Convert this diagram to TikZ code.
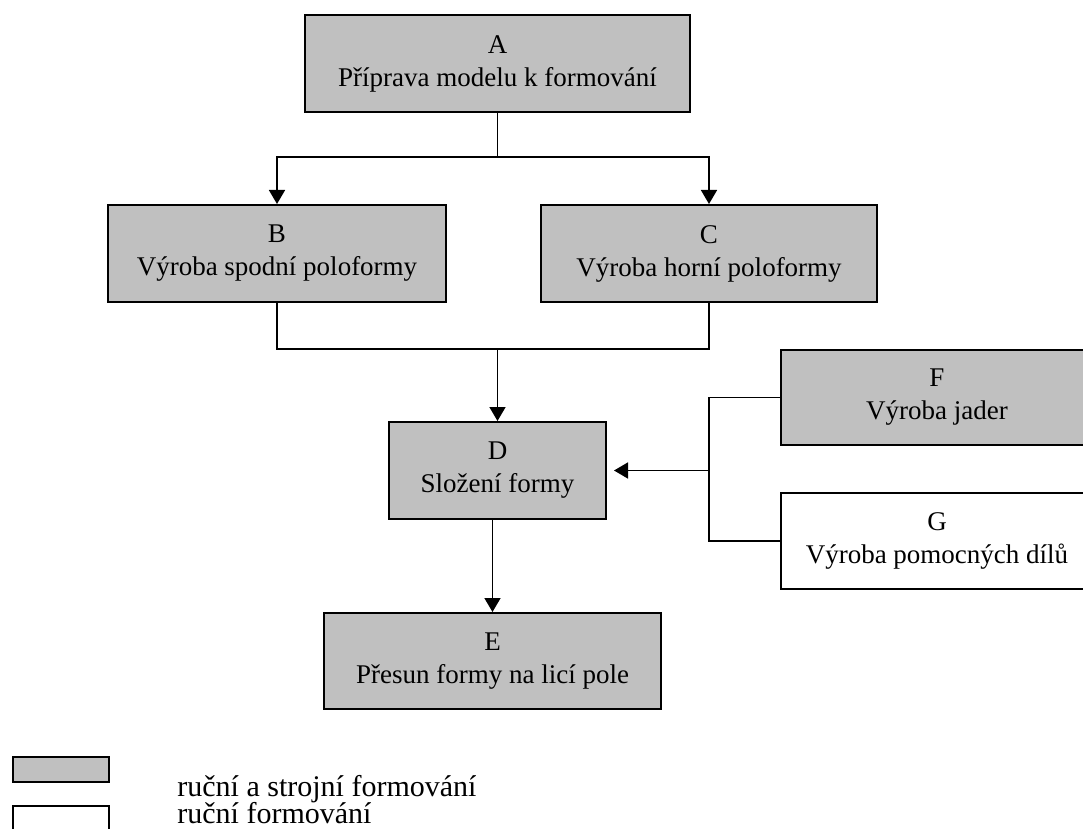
\documentclass[tikz,border=0pt]{standalone}
\usepackage{fontspec}
\setmainfont{Liberation Serif}
\usetikzlibrary{arrows.meta, positioning}
\definecolor{boxgray}{RGB}{192,192,192}

\begin{document}
\begin{tikzpicture}[x=0.5pt, y=-0.5pt,
        procbox/.style={draw=black, line width=1pt, fill=boxgray, align=center, inner sep=0pt,
          minimum height=48.5pt, font=\fontsize{13.5}{16.5}\selectfont},
        handbox/.style={procbox, fill=white},
        flow/.style={line width=0.8pt, -{Triangle[length=7pt, width=8pt]}},
        link/.style={line width=0.8pt}]
        \useasboundingbox (0,0) rectangle (1083,829);
        \clip (0,0) rectangle (1083,829);

        % Process boxes
        \node[procbox, minimum width=192.5pt] (A) at (497.5,63.5) {A\\Příprava modelu k formování};
        \node[procbox, minimum width=169pt] (B) at (277,253.5) {B\\Výroba spodní poloformy};
        \node[procbox, minimum width=168pt] (C) at (709,253.5) {C\\Výroba horní poloformy};
        \node[procbox, minimum width=108.5pt] (D) at (497.5,470.5) {D\\Složení formy};
        \node[procbox, minimum width=168.5pt, minimum height=48pt] (E) at (492.5,661) {E\\Přesun formy na licí pole};
        \node[procbox, minimum width=156pt, minimum height=47.5pt] (F) at (937,397.5) {F\\Výroba jader};
        \node[handbox, minimum width=156pt, minimum height=48pt] (G) at (937,541) {G\\Výroba pomocných dílů};

        % Branch points
        \coordinate (split) at (497.5,157);
        \coordinate (join) at (497.5,349);
        \coordinate (fg) at (709,470.5);

        % Connectors
        \draw[link] (A) -- (split);
        \draw[flow] (split) -| (B);
        \draw[flow] (split) -| (C);
        \draw[link] (B) |- (join) -| (C);
        \draw[flow] (join) -- (D);
        \draw[link] (F) -| (fg) |- (G);
        \draw[flow, shorten >=3.5pt] (fg) -- (D);
        \draw[flow] (D.south -| E.north) -- (E);

        % Legend
        \node[procbox, minimum width=48pt, minimum height=12.5pt] (keyA) at (61,769.5) {};
        \node[handbox, minimum width=48pt, minimum height=12.5pt] (keyB) at (61,818.5) {};
        \node[anchor=base west, inner sep=0pt, font=\fontsize{15}{15}\selectfont] (keyAtext) at (177,796) {ruční a strojní formování};
        \node[anchor=base west, inner sep=0pt, font=\fontsize{15}{15}\selectfont] (keyBtext) at (177,823) {ruční formování};
    \end{tikzpicture}
\end{document}
